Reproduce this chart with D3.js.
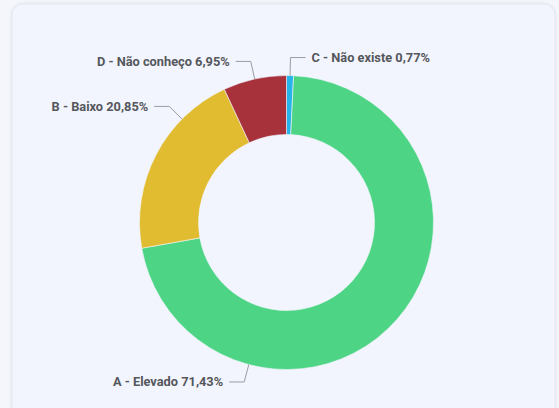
<!DOCTYPE html>
<html>
<head>
<meta charset="utf-8">
<script src="https://cdn.jsdelivr.net/npm/d3@7"></script>
<style>
  html, body { margin: 0; padding: 0; background: #f4f6fb; }
  svg { display: block; }
  .lbl { font-family: Roboto, "Noto Sans", sans-serif; font-weight: 700; font-size: 12.8px; fill: #55575c; }
</style>
</head>
<body>
<svg width="559" height="408"></svg>
<script>
// slices, in clockwise order from 12 o'clock
const categories = ['C - Não existe', 'A - Elevado', 'B - Baixo', 'D - Não conheço']
const percents = [0.77, 71.43, 20.85, 6.95]
const percentLabels = ['0,77%', '71,43%', '20,85%', '6,95%']
const colors = ['#27b4ea', '#4dd484', '#e2bc30', '#a7323b']
// where along each slice the leader line touches (0..1)
const anchorAt = [0.5, 0.747, 0.73, 0.5]

const svg = d3.select('svg'),
  width = 559,
  height = 408,
  cx = 286.5,
  cy = 222.5,
  outerR = 147,
  innerR = 88

// card
const defs = svg.append('defs')
const f = defs.append('filter').attr('id', 'shadow').attr('x', '-5%').attr('y', '-5%').attr('width', '110%').attr('height', '110%')
f.append('feDropShadow').attr('dx', 0).attr('dy', 0).attr('stdDeviation', 1.5).attr('flood-color', '#c9cdd8').attr('flood-opacity', 0.6)

svg.append('rect')
  .attr('x', 12).attr('y', 4)
  .attr('width', 543).attr('height', 430)
  .attr('rx', 11)
  .attr('fill', '#f2f5fd')
  .attr('stroke', '#e6e9f0')
  .attr('filter', 'url(#shadow)')

const data = categories.map((c, i) => ({ name: c, value: percents[i], pct: percentLabels[i], color: colors[i], at: anchorAt[i] }))

const pie = d3.pie().sort(null).value(d => d.value)
const arcs = pie(data)
const arc = d3.arc().innerRadius(innerR).outerRadius(outerR)

const g = svg.append('g').attr('transform', `translate(${cx},${cy})`)

g.selectAll('path')
  .data(arcs)
  .join('path')
  .attr('d', arc)
  .attr('fill', d => d.data.color)
  .attr('stroke', '#f2f5fd')
  .attr('stroke-width', 0.6)

// leader lines + labels
const pt = (a, r) => [r * Math.sin(a), -r * Math.cos(a)]

arcs.forEach(d => {
  const a = d.startAngle + (d.endAngle - d.startAngle) * d.data.at
  const p0 = pt(a, outerR)
  const p1 = pt(a, outerR + 18)
  const right = a < Math.PI
  const p2 = [p1[0] + (right ? 15 : -15), p1[1]]

  g.append('polyline')
    .attr('points', [p0, p1, p2].map(p => p.join(',')).join(' '))
    .attr('fill', 'none')
    .attr('stroke', '#9a9ca3')
    .attr('stroke-width', 1)

  g.append('text')
    .attr('class', 'lbl')
    .attr('x', p2[0] + (right ? 6 : -6))
    .attr('y', p2[1])
    .attr('dy', '0.35em')
    .attr('text-anchor', right ? 'start' : 'end')
    .text(`${d.data.name} ${d.data.pct}`)
})
</script>
</body>
</html>
